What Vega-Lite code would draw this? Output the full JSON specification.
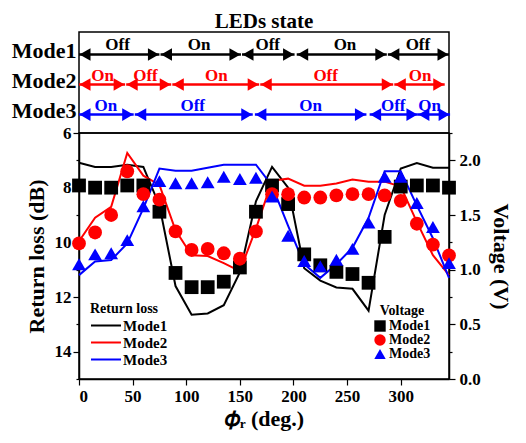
{
  "$schema": "https://vega.github.io/schema/vega-lite/v6.json",
  "padding": {"left": 10, "right": 4, "top": 10, "bottom": 5},
  "spacing": 0,
  "bounds": "flush",
  "config": {
    "font": "Liberation Serif",
    "concat": {"spacing": 0},
    "view": {"stroke": "#000000", "strokeWidth": 1.5},
    "axis": {
      "labelFont": "Liberation Serif", "labelFontWeight": "bold", "labelFontSize": 17, "labelColor": "#000000",
      "titleFont": "Liberation Serif", "titleFontWeight": "bold", "titleFontSize": 22, "titleColor": "#000000",
      "domainColor": "#000000", "domainWidth": 1.5, "tickColor": "#000000", "tickWidth": 1.2, "grid": false
    },
    "legend": {
      "labelFont": "Liberation Serif", "labelFontWeight": "bold", "labelFontSize": 15, "labelColor": "#000000",
      "titleFont": "Liberation Serif", "titleFontWeight": "bold", "titleFontSize": 15, "titleColor": "#000000",
      "titlePadding": 1, "rowPadding": 0, "padding": 0, "symbolOpacity": 1
    }
  },
  "datasets": {
    "rl": [
      {"phi": 0, "mode": "Mode1", "rl": 7.09, "v": 1.77}, {"phi": 0, "mode": "Mode2", "rl": 9.96, "v": 1.24}, {"phi": 0, "mode": "Mode3", "rl": 11.2, "v": 1.05},
      {"phi": 15, "mode": "Mode1", "rl": 7.24, "v": 1.75}, {"phi": 15, "mode": "Mode2", "rl": 9.1, "v": 1.34}, {"phi": 15, "mode": "Mode3", "rl": 10.7, "v": 1.14},
      {"phi": 30, "mode": "Mode1", "rl": 7.24, "v": 1.75}, {"phi": 30, "mode": "Mode2", "rl": 8.7, "v": 1.5}, {"phi": 30, "mode": "Mode3", "rl": 10.65, "v": 1.15},
      {"phi": 45, "mode": "Mode1", "rl": 7.16, "v": 1.77}, {"phi": 45, "mode": "Mode2", "rl": 6.73, "v": 1.9}, {"phi": 45, "mode": "Mode3", "rl": 10.04, "v": 1.27},
      {"phi": 60, "mode": "Mode1", "rl": 7.24, "v": 1.77}, {"phi": 60, "mode": "Mode2", "rl": 7.56, "v": 1.69}, {"phi": 60, "mode": "Mode3", "rl": 8.76, "v": 1.58},
      {"phi": 75, "mode": "Mode1", "rl": 8.65, "v": 1.53}, {"phi": 75, "mode": "Mode2", "rl": 7.9, "v": 1.64}, {"phi": 75, "mode": "Mode3", "rl": 7.3, "v": 1.81},
      {"phi": 90, "mode": "Mode1", "rl": 11.6, "v": 0.97}, {"phi": 90, "mode": "Mode2", "rl": 9.56, "v": 1.35}, {"phi": 90, "mode": "Mode3", "rl": 7.38, "v": 1.79},
      {"phi": 105, "mode": "Mode1", "rl": 12.65, "v": 0.84}, {"phi": 105, "mode": "Mode2", "rl": 10.47, "v": 1.18}, {"phi": 105, "mode": "Mode3", "rl": 7.38, "v": 1.79},
      {"phi": 120, "mode": "Mode1", "rl": 12.6, "v": 0.84}, {"phi": 120, "mode": "Mode2", "rl": 10.5, "v": 1.19}, {"phi": 120, "mode": "Mode3", "rl": 7.27, "v": 1.8},
      {"phi": 135, "mode": "Mode1", "rl": 12.3, "v": 0.89}, {"phi": 135, "mode": "Mode2", "rl": 10.76, "v": 1.15}, {"phi": 135, "mode": "Mode3", "rl": 7.16, "v": 1.85},
      {"phi": 150, "mode": "Mode1", "rl": 11.1, "v": 1.02}, {"phi": 150, "mode": "Mode2", "rl": 11.05, "v": 1.1}, {"phi": 150, "mode": "Mode3", "rl": 7.16, "v": 1.83},
      {"phi": 165, "mode": "Mode1", "rl": 8.5, "v": 1.53}, {"phi": 165, "mode": "Mode2", "rl": 9.5, "v": 1.35}, {"phi": 165, "mode": "Mode3", "rl": 7.16, "v": 1.84},
      {"phi": 180, "mode": "Mode1", "rl": 7.24, "v": 1.77}, {"phi": 180, "mode": "Mode2", "rl": 7.75, "v": 1.69}, {"phi": 180, "mode": "Mode3", "rl": 7.93, "v": 1.67},
      {"phi": 195, "mode": "Mode1", "rl": 8.0, "v": 1.6}, {"phi": 195, "mode": "Mode2", "rl": 7.67, "v": 1.69}, {"phi": 195, "mode": "Mode3", "rl": 9.4, "v": 1.31},
      {"phi": 210, "mode": "Mode1", "rl": 10.95, "v": 1.14}, {"phi": 210, "mode": "Mode2", "rl": 7.93, "v": 1.66}, {"phi": 210, "mode": "Mode3", "rl": 10.8, "v": 1.08},
      {"phi": 225, "mode": "Mode1", "rl": 11.4, "v": 1.04}, {"phi": 225, "mode": "Mode2", "rl": 7.93, "v": 1.66}, {"phi": 225, "mode": "Mode3", "rl": 11.3, "v": 1.03},
      {"phi": 240, "mode": "Mode1", "rl": 11.65, "v": 0.98}, {"phi": 240, "mode": "Mode2", "rl": 7.85, "v": 1.68}, {"phi": 240, "mode": "Mode3", "rl": 10.8, "v": 1.09},
      {"phi": 255, "mode": "Mode1", "rl": 11.7, "v": 0.96}, {"phi": 255, "mode": "Mode2", "rl": 7.7, "v": 1.69}, {"phi": 255, "mode": "Mode3", "rl": 10.2, "v": 1.19},
      {"phi": 270, "mode": "Mode1", "rl": 12.5, "v": 0.88}, {"phi": 270, "mode": "Mode2", "rl": 7.78, "v": 1.69}, {"phi": 270, "mode": "Mode3", "rl": 9.1, "v": 1.43},
      {"phi": 285, "mode": "Mode1", "rl": 9.0, "v": 1.3}, {"phi": 285, "mode": "Mode2", "rl": 7.78, "v": 1.68}, {"phi": 285, "mode": "Mode3", "rl": 7.4, "v": 1.85},
      {"phi": 300, "mode": "Mode1", "rl": 7.3, "v": 1.76}, {"phi": 300, "mode": "Mode2", "rl": 7.96, "v": 1.63}, {"phi": 300, "mode": "Mode3", "rl": 7.4, "v": 1.85},
      {"phi": 315, "mode": "Mode1", "rl": 7.1, "v": 1.77}, {"phi": 315, "mode": "Mode2", "rl": 9.25, "v": 1.42}, {"phi": 315, "mode": "Mode3", "rl": 8.65, "v": 1.61},
      {"phi": 330, "mode": "Mode1", "rl": 7.27, "v": 1.77}, {"phi": 330, "mode": "Mode2", "rl": 10.47, "v": 1.23}, {"phi": 330, "mode": "Mode3", "rl": 9.85, "v": 1.39},
      {"phi": 345, "mode": "Mode1", "rl": 7.27, "v": 1.75}, {"phi": 345, "mode": "Mode2", "rl": 11.2, "v": 1.13}, {"phi": 345, "mode": "Mode3", "rl": 11.3, "v": 1.06}
    ],
    "leds": [
      {"mode": "Mode1", "state": "Off", "start": 0, "end": 75, "mid": 36},
      {"mode": "Mode1", "state": "On", "start": 76, "end": 151, "mid": 112},
      {"mode": "Mode1", "state": "Off", "start": 152, "end": 201, "mid": 176},
      {"mode": "Mode1", "state": "On", "start": 203, "end": 287, "mid": 248},
      {"mode": "Mode1", "state": "Off", "start": 288, "end": 345, "mid": 316},
      {"mode": "Mode2", "state": "On", "start": 0, "end": 43, "mid": 22},
      {"mode": "Mode2", "state": "Off", "start": 44, "end": 86, "mid": 62},
      {"mode": "Mode2", "state": "On", "start": 87, "end": 168, "mid": 128},
      {"mode": "Mode2", "state": "Off", "start": 169, "end": 293, "mid": 230},
      {"mode": "Mode2", "state": "On", "start": 294, "end": 341, "mid": 318},
      {"mode": "Mode3", "state": "On", "start": 0, "end": 51, "mid": 25},
      {"mode": "Mode3", "state": "Off", "start": 52, "end": 162, "mid": 106},
      {"mode": "Mode3", "state": "On", "start": 164, "end": 268, "mid": 216},
      {"mode": "Mode3", "state": "Off", "start": 271, "end": 316, "mid": 293},
      {"mode": "Mode3", "state": "On", "start": 316, "end": 346, "mid": 327}
    ]
  },
  "resolve": {
    "scale": {"x": "independent", "y": "independent", "color": "independent", "stroke": "independent", "fill": "independent", "shape": "independent"},
    "legend": {"color": "independent", "stroke": "independent", "fill": "independent", "shape": "independent"}
  },
  "vconcat": [
    {
      "width": 370,
      "height": 101,
      "title": {"text": "LEDs state", "font": "Liberation Serif", "fontSize": 21, "fontWeight": "bold", "color": "#000000", "offset": 0, "anchor": "middle"},
      "data": {"name": "leds"},
      "encoding": {
        "y": {
          "field": "mode", "type": "nominal",
          "scale": {"type": "point", "domain": ["Mode1", "Mode2", "Mode3"], "padding": 0.68, "align": 0.55},
          "axis": {
            "title": null, "domain": false, "ticks": false, "labelFontSize": 22, "labelPadding": 3, "labelOffset": -4,
            "encode": {"labels": {"update": {"fill": {"signal": "datum.value === 'Mode2' ? '#ff0000' : datum.value === 'Mode3' ? '#0000ff' : '#000000'"}}}}
          }
        },
        "color": {"field": "mode", "type": "nominal", "scale": {"domain": ["Mode1", "Mode2", "Mode3"], "range": ["#000000", "#ff0000", "#0000ff"]}, "legend": null}
      },
      "layer": [
        {
          "mark": {"type": "rule", "strokeWidth": 2.5},
          "encoding": {
            "x": {"field": "start", "type": "quantitative", "scale": {"domain": [0, 345], "nice": false, "zero": false}, "axis": null},
            "x2": {"field": "end"}
          }
        },
        {
          "mark": {"type": "point", "shape": "triangle-left", "filled": true, "size": 160, "opacity": 1, "xOffset": 6},
          "encoding": {"x": {"field": "start", "type": "quantitative"}}
        },
        {
          "mark": {"type": "point", "shape": "triangle-right", "filled": true, "size": 160, "opacity": 1, "xOffset": -6},
          "encoding": {"x": {"field": "end", "type": "quantitative"}}
        },
        {
          "mark": {"type": "text", "font": "Liberation Serif", "fontSize": 17, "fontWeight": "bold", "baseline": "alphabetic", "dy": -4},
          "encoding": {"x": {"field": "mid", "type": "quantitative"}, "text": {"field": "state"}}
        }
      ]
    },
    {
      "width": 370,
      "height": 246,
      "data": {"name": "rl"},
      "layer": [
        {
          "mark": {"type": "line", "strokeWidth": 2},
          "encoding": {
            "x": {
              "field": "phi", "type": "quantitative",
              "scale": {"domain": [0, 345], "nice": false, "zero": false},
              "axis": {
                "values": [0, 25, 50, 75, 100, 125, 150, 175, 200, 225, 250, 275, 300, 325],
                "labelExpr": "datum.value % 50 === 0 ? datum.label : ''",
                "tickSize": {"condition": {"test": "datum.value % 50 === 0", "value": 6}, "value": 3},
                "labelPadding": 3,
                "title": "𝜙ᵣ (deg.)", "titlePadding": 4
              }
            },
            "y": {
              "field": "rl", "type": "quantitative",
              "scale": {"domain": [6, 15], "reverse": true, "nice": false, "zero": false},
              "axis": {
                "values": [6, 7, 8, 9, 10, 11, 12, 13, 14, 15],
                "labelExpr": "datum.value % 2 === 0 ? datum.label : ''",
                "tickSize": {"condition": {"test": "datum.value % 2 === 0", "value": 6}, "value": 3},
                "labelPadding": 2,
                "title": "Return loss (dB)", "titlePadding": 6
              }
            },
            "stroke": {
              "field": "mode", "type": "nominal",
              "scale": {"domain": ["Mode1", "Mode2", "Mode3"], "range": ["#000000", "#ff0000", "#0000ff"]},
              "legend": {"title": "Return loss", "orient": "bottom-left", "offset": 11, "symbolType": "M-1,0H3", "symbolSize": 225, "symbolStrokeWidth": 2, "labelOffset": 16, "titleFontSize": 14}
            }
          }
        },
        {
          "mark": {"type": "point", "filled": true, "size": 190, "opacity": 1, "strokeWidth": 0},
          "encoding": {
            "x": {"field": "phi", "type": "quantitative"},
            "y": {
              "field": "v", "type": "quantitative",
              "scale": {"domain": [0, 2.25], "nice": false, "zero": false},
              "axis": {
                "orient": "right",
                "values": [0, 0.25, 0.5, 0.75, 1, 1.25, 1.5, 1.75, 2, 2.25],
                "format": ".1f",
                "labelExpr": "datum.value * 2 % 1 === 0 ? datum.label : ''",
                "tickSize": {"condition": {"test": "datum.value * 2 % 1 === 0", "value": 6}, "value": 3},
                "labelPadding": 4,
                "title": "Voltage (V)", "titlePadding": 8
              }
            },
            "fill": {
              "field": "mode", "type": "nominal",
              "scale": {"domain": ["Mode1", "Mode2", "Mode3"], "range": ["#000000", "#ff0000", "#0000ff"]},
              "legend": null
            },
            "shape": {
              "field": "mode", "type": "nominal",
              "scale": {"domain": ["Mode1", "Mode2", "Mode3"], "range": ["square", "circle", "triangle-up"]},
              "legend": {"title": "Voltage", "orient": "bottom-right", "offset": 18, "symbolSize": 130, "symbolStrokeWidth": 0, "labelOffset": 2, "titleAnchor": "middle", "labelFontSize": 14, "titleFontSize": 14}
            }
          }
        }
      ],
      "resolve": {"scale": {"y": "independent"}}
    }
  ]
}
